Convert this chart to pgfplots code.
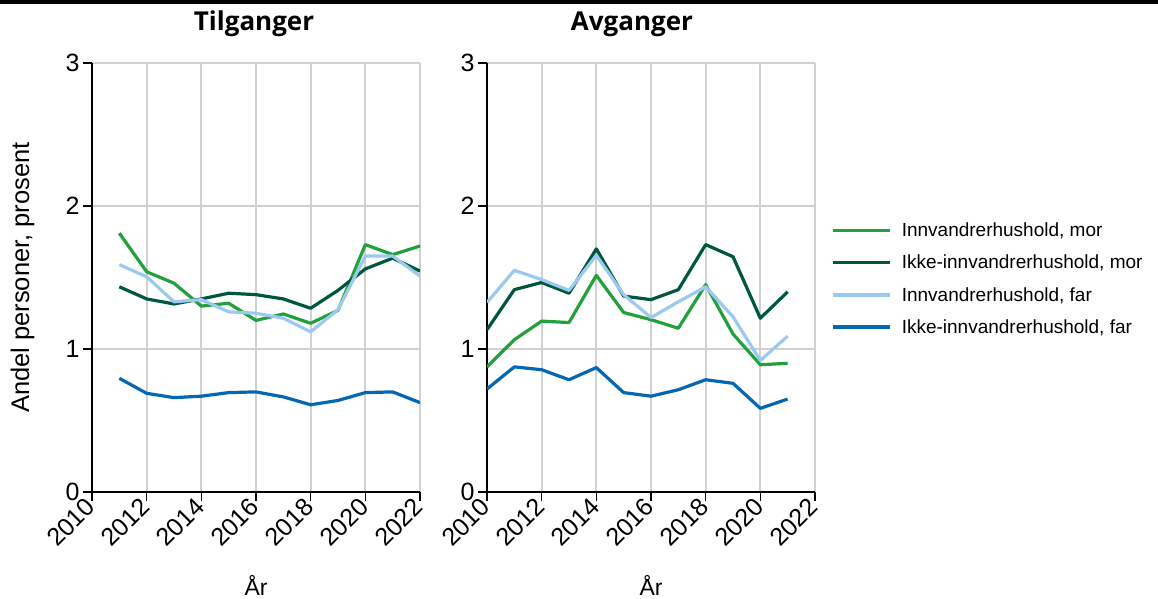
\documentclass[border=0pt]{standalone}
\usepackage{pgfplots}
\usepackage{pgfplotstable}
\pgfplotsset{compat=1.18}
\usepackage{fontspec}
\setmainfont{Liberation Sans}
\newfontfamily\titlefont{Open Sans}

\definecolor{innmor}{HTML}{22A03C}
\definecolor{ikkemor}{HTML}{00573F}
\definecolor{innfar}{HTML}{9BC9EF}
\definecolor{ikkefar}{HTML}{0467B3}

% Tilganger (2011-2022)
\pgfplotstableread{
aar innmor ikkemor innfar ikkefar
2011 1.81  1.435 1.59  0.795
2012 1.54  1.35  1.505 0.69
2013 1.46  1.315 1.33  0.66
2014 1.30  1.35  1.345 0.67
2015 1.32  1.39  1.26  0.695
2016 1.20  1.38  1.25  0.70
2017 1.245 1.35  1.215 0.665
2018 1.18  1.285 1.12  0.61
2019 1.27  1.41  1.275 0.64
2020 1.73  1.56  1.65  0.695
2021 1.66  1.635 1.65  0.70
2022 1.72  1.545 1.51  0.625
}\tilg

% Avganger (2010-2021)
\pgfplotstableread{
aar innmor ikkemor innfar ikkefar
2010 0.875 1.135 1.325 0.72
2011 1.065 1.415 1.55  0.875
2012 1.195 1.465 1.485 0.855
2013 1.185 1.39  1.41  0.785
2014 1.515 1.70  1.655 0.87
2015 1.255 1.37  1.38  0.695
2016 1.205 1.345 1.22  0.67
2017 1.145 1.415 1.33  0.715
2018 1.45  1.73  1.435 0.785
2019 1.105 1.645 1.225 0.76
2020 0.89  1.215 0.92  0.585
2021 0.90  1.40  1.09  0.65
}\avg

\pgfplotsset{
  panel/.style={
    scale only axis, width=328pt, height=429pt,
    xmin=2010, xmax=2022, ymin=0, ymax=3,
    xtick={2010,2012,...,2022}, ytick={0,1,2,3},
    /pgf/number format/1000 sep={},
    /pgf/number format/assume math mode=true,
    tick label style={font=\fontsize{25}{25}\selectfont},
    xticklabel style={rotate=45, anchor=east, inner sep=2pt},
    axis lines=left,
    axis line style={-, line width=1.5pt, black},
    tick align=outside, major tick length=9pt,
    tick style={black, line width=1.5pt},
    grid=major,
    major grid style={line width=2pt, color=black!18},
    xlabel={År},
    xlabel style={at={(axis description cs:0.5,-0.241)}, anchor=base, font=\fontsize{23}{23}\selectfont},
    title style={anchor=base, font=\titlefont\bfseries\fontsize{26}{26}\selectfont},
    every axis plot/.append style={line width=3.2pt, line join=round, mark=none},
  }
}

\begin{document}
\begin{tikzpicture}
\useasboundingbox (0pt,0pt) rectangle (1158pt,599pt);
\fill[black] (0pt,595pt) rectangle (1158pt,599pt);

\begin{axis}[panel, at={(92pt,107pt)}, anchor=south west,
  title={Tilganger}, title style={at={(axis description cs:0.494,1.0606)}},
  ylabel={Andel personer, prosent},
  ylabel style={at={(axis description cs:-0.212,0.5)}, anchor=center, font=\fontsize{25.5}{25.5}\selectfont},
]
\addplot[innmor] table[x=aar, y=innmor] {\tilg};
\addplot[ikkemor] table[x=aar, y=ikkemor] {\tilg};
\addplot[innfar] table[x=aar, y=innfar] {\tilg};
\addplot[ikkefar] table[x=aar, y=ikkefar] {\tilg};
\end{axis}

\begin{axis}[panel, at={(487pt,107pt)}, anchor=south west,
  title={Avganger}, title style={at={(axis description cs:0.442,1.0606)}},
  legend style={at={(axis description cs:1.049,0.497)}, anchor=west, draw=none, fill=none,
    inner sep=0pt, font=\fontsize{19}{19}\selectfont, row sep=13pt,
    /tikz/every odd column/.append style={column sep=8pt}},
  legend cell align=left,
  legend image code/.code={\draw[#1, line width=3.5pt] (0pt,0pt) -- (57pt,0pt);},
]
\addplot[innmor] table[x=aar, y=innmor] {\avg};
\addplot[ikkemor] table[x=aar, y=ikkemor] {\avg};
\addplot[innfar] table[x=aar, y=innfar] {\avg};
\addplot[ikkefar] table[x=aar, y=ikkefar] {\avg};
\legend{{Innvandrerhushold, mor}, {Ikke-innvandrerhushold, mor}, {Innvandrerhushold, far}, {Ikke-innvandrerhushold, far}}
\end{axis}
\end{tikzpicture}
\end{document}
